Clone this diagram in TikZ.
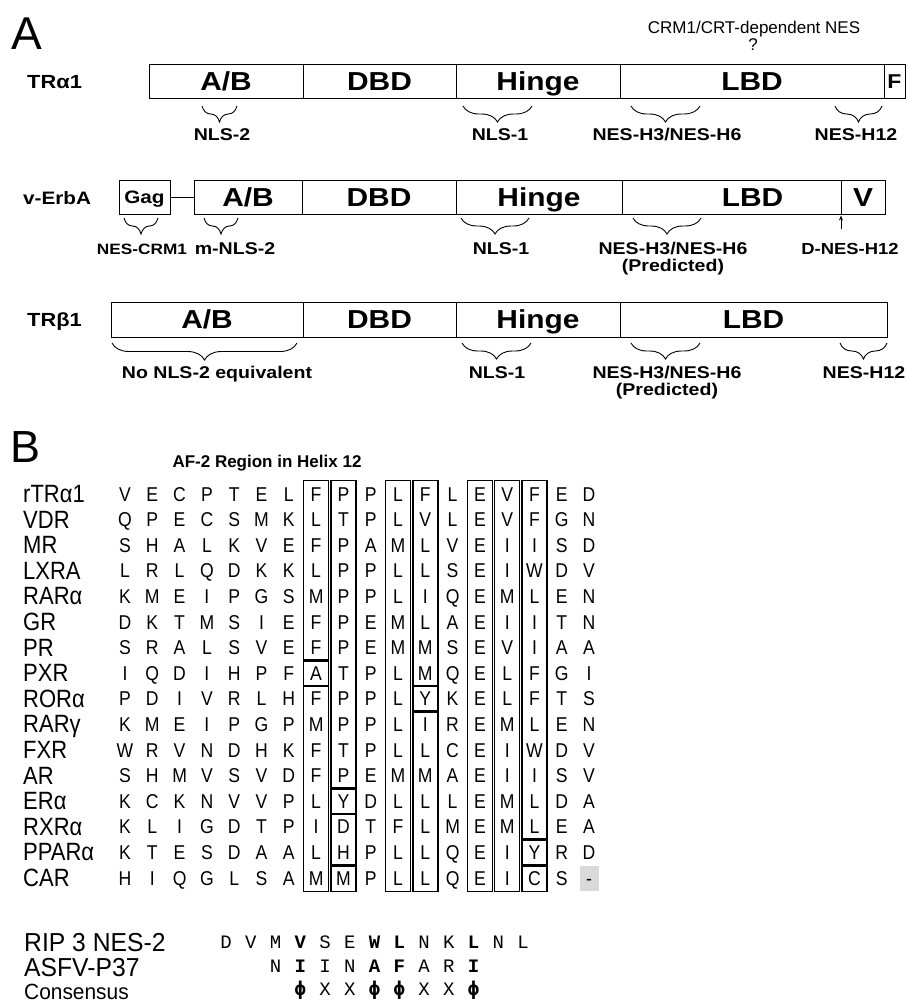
\documentclass[tikz,border=0pt]{standalone}
\usepackage{fontspec}
\setmainfont{Liberation Sans}
\newfontfamily\segf{Liberation Sans}[FakeStretch=1.15]
\newfontfamily\narf{Liberation Sans}[FakeStretch=0.88]
\newfontfamily\midf{Liberation Sans}[FakeStretch=0.95]
\newfontfamily\monof{Liberation Mono}
\newfontfamily\phif{DejaVu Sans Mono}
\newcommand\resmono{\monof\mdseries}
\newcommand\resbold{\monof\bfseries}
\usetikzlibrary{decorations.pathreplacing,arrows.meta}
\begin{document}
\begin{tikzpicture}[x=1pt,y=-1pt,
  seg/.style={draw, line width=1pt, inner sep=0pt, outer sep=0pt, minimum height=34pt,
    font=\segf\bfseries\fontsize{26}{30}\selectfont, text height=18.6pt, text depth=0pt},
  rowlab/.style={anchor=base west, inner sep=0pt, font=\segf\bfseries\fontsize{19}{22}\selectfont},
  sublab/.style={anchor=base, inner sep=0pt, font=\segf\bfseries\fontsize{17}{20}\selectfont},
  brc/.style={decorate, decoration={brace, amplitude=16pt, mirror}, line width=0.9pt},
  alab/.style={anchor=base west, inner sep=0pt, font=\narf\fontsize{25}{28}\selectfont},
  res/.style={anchor=base, inner sep=0pt, font=\narf\fontsize{20}{22}\selectfont},
  mres/.style={anchor=base, inner sep=0pt, font=\fontsize{19}{21}\selectfont},
  nlab/.style={anchor=base west, inner sep=0pt, font=\midf\fontsize{26}{28}\selectfont},
  boxl/.style={line width=1.4pt},
  plain/.style={anchor=base, inner sep=0pt, font=\fontsize{17}{20}\selectfont}
]
\useasboundingbox (0,0) rectangle (908,1005);

% ---------------- Panel A ----------------
\node[anchor=base west, inner sep=0pt, font=\fontsize{46}{50}\selectfont] (lblA) at (11,49) {A};
\node[plain] (crm) at (754,33) {CRM1/CRT-dependent NES};
\node[plain] (qm) at (753,50) {?};

% TRalpha1
\node[rowlab] (tra) at (27,88) {TRα1};
\node[seg, minimum width=154pt] (ta1) at (226,81) {A/B};
\node[seg, minimum width=153pt] (ta2) at (379.5,81) {DBD};
\node[seg, minimum width=164pt] (ta3) at (538,81) {Hinge};
\node[seg, minimum width=264pt] (ta4) at (752,81) {LBD};
\node[seg, minimum width=21pt, font=\segf\bfseries\fontsize{20}{22}\selectfont, text height=14.3pt] (ta5) at (894.5,81) {F};
\draw[brc] (202,106) -- (237,106);
\draw[brc] (463,106) -- (532,106);
\draw[brc] (631,106) -- (700,106);
\draw[brc] (835,106) -- (882,106);
\node[sublab] (nls2a) at (222,140) {NLS-2};
\node[sublab] (nls1a) at (500,140) {NLS-1};
\node[sublab] (nesa) at (667,140) {NES-H3/NES-H6};
\node[sublab] (h12a) at (856,140) {NES-H12};

% v-ErbA
\node[rowlab, font=\segf\bfseries\fontsize{18}{21}\selectfont] (verb) at (23,204) {v-ErbA};
\node[seg, minimum width=51pt, font=\segf\bfseries\fontsize{18}{20}\selectfont, text height=12.9pt] (gag) at (144.5,197) {Gag};
\node[seg, minimum width=108pt] (vb1) at (248,197) {A/B};
\node[seg, minimum width=154pt] (vb2) at (379,197) {DBD};
\node[seg, minimum width=166pt] (vb3) at (539,197) {Hinge};
\node[seg, minimum width=219pt] (vb4) at (731.5,197) {\hspace*{42pt}LBD};
\node[seg, minimum width=44pt] (vb5) at (863,197) {V};
\draw[line width=1pt] (gag.east) -- (vb1.west);
\draw[brc] (124,218) -- (158,218);
\draw[brc] (204,218) -- (238,218);
\draw[brc] (461,218) -- (529,218);
\draw[brc] (633,218) -- (701,218);
\node[sublab, font=\segf\bfseries\fontsize{15}{18}\selectfont] (nescrm) at (142,254) {NES-CRM1};
\node[sublab] (mnls) at (235,254) {m-NLS-2};
\node[sublab] (nls1b) at (501,254) {NLS-1};
\node[sublab] (nesb) at (673,254) {NES-H3/NES-H6};
\node[sublab] (predb) at (673,271.5) {(Predicted)};
\node[sublab, font=\segf\bfseries\fontsize{16}{18}\selectfont] (dnes) at (850,254) {D-NES-H12};
\coordinate (arrbot) at (841,229);
\draw[line width=0.8pt, -{Stealth[length=5pt,width=4pt]}, shorten >=1.5pt] (arrbot) -- (vb4.south east);

% TRbeta1
\node[rowlab] (trb) at (27,326) {TRβ1};
\node[seg, minimum width=192pt, minimum height=35pt] (tb1) at (207,319.5) {A/B};
\node[seg, minimum width=153pt, minimum height=35pt] (tb2) at (379.5,319.5) {DBD};
\node[seg, minimum width=164pt, minimum height=35pt] (tb3) at (538,319.5) {Hinge};
\node[seg, minimum width=267pt, minimum height=35pt] (tb4) at (753.5,319.5) {LBD};
\draw[brc, decoration={amplitude=17pt}] (112,343) -- (297,343);
\draw[brc] (462,343) -- (531,343);
\draw[brc] (631,343) -- (700,343);
\draw[brc] (840,343) -- (887,343);
\node[sublab] (nonls) at (217,378) {No NLS-2 equivalent};
\node[sublab] (nls1c) at (497,378) {NLS-1};
\node[sublab] (nesc) at (667,378) {NES-H3/NES-H6};
\node[sublab] (predc) at (667,395) {(Predicted)};
\node[sublab] (h12c) at (864,378) {NES-H12};

% ---------------- Panel B ----------------
\node[anchor=base west, inner sep=0pt, font=\fontsize{45}{50}\selectfont] (lblB) at (10,462) {B};
\node[anchor=base, inner sep=0pt, font=\bfseries\fontsize{17}{20}\selectfont] (af2) at (267,467) {AF-2 Region in Helix 12};

% gray cell (CAR, last column)
\fill[gray!30] ({125+27.3*17-9.5},{494+25.6*15-12.5}) rectangle ({125+27.3*17+9.5},{494+25.6*15+12.5});

\foreach \lab/\seq [count=\k from 0] in {
  rTRα1/{V,E,C,P,T,E,L,F,P,P,L,F,L,E,V,F,E,D},
  VDR/{Q,P,E,C,S,M,K,L,T,P,L,V,L,E,V,F,G,N},
  MR/{S,H,A,L,K,V,E,F,P,A,M,L,V,E,I,I,S,D},
  LXRA/{L,R,L,Q,D,K,K,L,P,P,L,L,S,E,I,W,D,V},
  RARα/{K,M,E,I,P,G,S,M,P,P,L,I,Q,E,M,L,E,N},
  GR/{D,K,T,M,S,I,E,F,P,E,M,L,A,E,I,I,T,N},
  PR/{S,R,A,L,S,V,E,F,P,E,M,M,S,E,V,I,A,A},
  PXR/{I,Q,D,I,H,P,F,A,T,P,L,M,Q,E,L,F,G,I},
  RORα/{P,D,I,V,R,L,H,F,P,P,L,Y,K,E,L,F,T,S},
  RARγ/{K,M,E,I,P,G,P,M,P,P,L,I,R,E,M,L,E,N},
  FXR/{W,R,V,N,D,H,K,F,T,P,L,L,C,E,I,W,D,V},
  AR/{S,H,M,V,S,V,D,F,P,E,M,M,A,E,I,I,S,V},
  ERα/{K,C,K,N,V,V,P,L,Y,D,L,L,L,E,M,L,D,A},
  RXRα/{K,L,I,G,D,T,P,I,D,T,F,L,M,E,M,L,E,A},
  PPARα/{K,T,E,S,D,A,A,L,H,P,L,L,Q,E,I,Y,R,D},
  CAR/{H,I,Q,G,L,S,A,M,M,P,L,L,Q,E,I,C,S,-}} {
  \pgfmathsetmacro\yy{494+25.6*\k}
  \node[alab] (lab\k) at (23,\yy+8.5) {\lab};
  \foreach \ch [count=\c from 0] in \seq {
    \node[res] (r\k c\c) at ({125+27.3*\c},{\yy+7}) {\ch};
  }
}

% conserved-position boxes: column / first row / last row
\foreach \c/\a/\b in {7/0/6, 7/7/7, 7/8/15, 8/0/11, 8/12/12, 8/13/14, 8/15/15,
  10/0/15, 11/0/7, 11/8/8, 11/9/15, 13/0/15, 14/0/15, 15/0/13, 15/14/14, 15/15/15} {
  \draw[boxl] ({125+27.3*\c-12.5},{494+25.6*\a-13.5}) rectangle ({125+27.3*\c+12.5},{494+25.6*\b+13.5});
}

% NES comparison rows
\node[nlab] (rip) at (24,951) {RIP 3 NES-2};
\node[nlab] (asfv) at (24,976) {ASFV-P37};
\node[nlab, font=\midf\fontsize{22}{24}\selectfont] (cons) at (24,999) {Consensus};

\foreach \ch/\c/\f in {D/0/\resmono, V/1/\resmono, M/2/\resmono, V/3/\resbold, S/4/\resmono,
  E/5/\resmono, W/6/\resbold, L/7/\resbold, N/8/\resmono, K/9/\resmono, L/10/\resbold,
  N/11/\resmono, L/12/\resmono} {
  \node[mres] (rip\c) at ({226+24.75*\c},948) {\f\ch};
}
\foreach \ch/\c/\f in {N/2/\resmono, I/3/\resbold, I/4/\resmono, N/5/\resmono, A/6/\resbold,
  F/7/\resbold, A/8/\resmono, R/9/\resmono, I/10/\resbold} {
  \node[mres] (asf\c) at ({226+24.75*\c},972) {\f\ch};
}
\foreach \ch/\c/\f in {ϕ/3/\phif\bfseries, X/4/\resmono, X/5/\resmono, ϕ/6/\phif\bfseries,
  ϕ/7/\phif\bfseries, X/8/\resmono, X/9/\resmono, ϕ/10/\phif\bfseries} {
  \node[mres] (con\c) at ({226+24.75*\c},995) {\f\ch};
}
\end{tikzpicture}
\end{document}
